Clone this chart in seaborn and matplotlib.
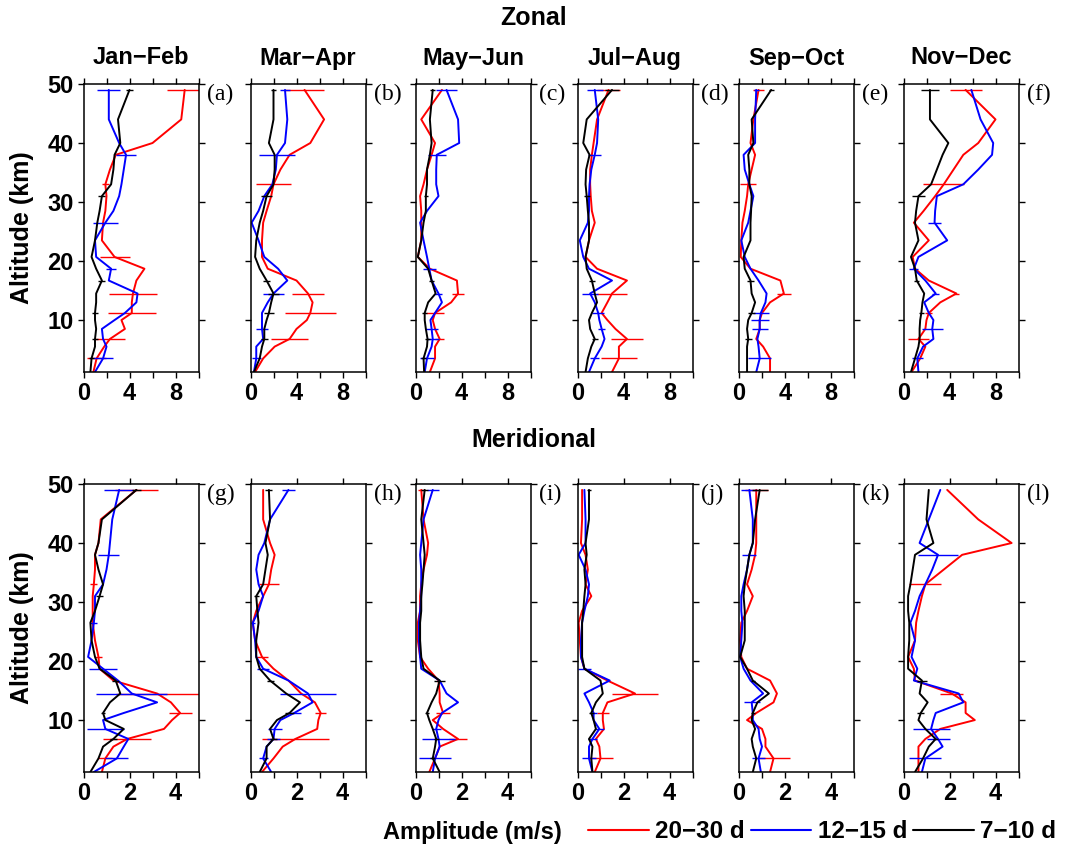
import numpy as np
import pandas as pd
import matplotlib
matplotlib.use("Agg")
import matplotlib.pyplot as plt
import seaborn as sns
from matplotlib.lines import Line2D
from matplotlib.ticker import FixedLocator

# ---------------- data ----------------
ALT = [1.2, 3.5, 5.5, 6.8, 8.5, 10, 11.2, 13, 14.5, 16.7, 18.7, 20.7,
       23.5, 26.5, 28.5, 31, 33, 35.5, 38, 40, 44, 49]

MONTHS = ["Jan\u2212Feb", "Mar\u2212Apr", "May\u2212Jun", "Jul\u2212Aug", "Sep\u2212Oct", "Nov\u2212Dec"]
PANEL_LABELS_TOP = ["(a)", "(b)", "(c)", "(d)", "(e)", "(f)"]
PANEL_LABELS_BOT = ["(g)", "(h)", "(i)", "(j)", "(k)", "(l)"]
SERIES = ["20\u221230 d", "12\u221215 d", "7\u221210 d"]

ZON_RED = [
    [0.86, 1.14, 1.8, 2.3, 3.6, 3.3, 4.2, 4.2, 4.3, 4.6, 5.3, 2.7, 1.6, 1.7, 1.9, 2.0, 1.9, 2.3, 2.8, 6.0, 8.5, 8.8],
    [0.4, 1.1, 2.1, 3.4, 4.0, 4.9, 5.2, 5.4, 5.0, 4.0, 1.5, 1.0, 1.0, 1.1, 1.4, 1.8, 2.0, 2.6, 3.4, 5.2, 6.4, 4.7],
    [1.25, 1.7, 1.7, 2.1, 1.7, 1.5, 1.7, 3.1, 3.7, 3.6, 1.25, 0.2, 0.5, 0.5, 0.5, 0.4, 0.7, 1.0, 1.4, 1.7, 0.5, 2.3],
    [3.0, 3.6, 3.6, 4.3, 3.3, 2.6, 2.1, 2.6, 3.0, 4.3, 1.7, 0.7, 1.0, 1.5, 1.25, 1.15, 1.1, 1.1, 1.25, 1.4, 1.7, 2.7],
    [2.7, 2.7, 2.1, 1.5, 1.8, 1.8, 2.0, 2.7, 3.9, 3.6, 1.0, 0.15, 0.2, 0.3, 0.5, 0.7, 0.8, 1.1, 1.4, 1.0, 1.25, 1.7],
    [0.7, 1.45, 1.9, 1.3, 1.9, 2.0, 2.2, 3.2, 4.6, 2.2, 1.0, 0.8, 2.2, 0.9, 1.75, 2.75, 3.5, 4.35, 5.2, 6.5, 8.0, 5.4],
]
ZON_BLUE = [
    [1.0, 1.7, 2.0, 1.7, 1.6, 2.7, 3.6, 4.6, 4.7, 2.2, 2.4, 1.1, 1.0, 1.9, 2.6, 3.1, 3.3, 3.5, 3.7, 3.1, 2.2, 2.2],
    [0.3, 0.5, 0.5, 1.1, 1.0, 1.0, 1.0, 1.5, 2.0, 3.2, 2.4, 1.2, 0.7, 0.1, 0.7, 1.2, 1.9, 2.2, 2.3, 3.0, 3.2, 3.0],
    [0.8, 1.0, 1.4, 1.5, 1.4, 1.3, 1.7, 2.3, 2.0, 1.4, 1.2, 1.0, 0.7, 0.4, 1.0, 2.0, 1.8, 1.8, 1.85, 3.8, 3.7, 2.7],
    [1.0, 1.5, 2.1, 2.35, 2.1, 1.9, 1.8, 1.5, 1.1, 3.0, 1.0, 0.5, 0.2, 0.9, 1.0, 1.0, 1.05, 1.2, 1.5, 1.7, 1.8, 1.5],
    [1.5, 1.8, 1.7, 1.6, 1.8, 1.8, 1.9, 2.3, 2.4, 1.7, 1.0, 0.5, 0.2, 0.8, 1.0, 1.25, 0.9, 0.5, 0.4, 1.4, 1.4, 1.5],
    [1.3, 1.2, 1.7, 2.6, 2.5, 2.6, 2.2, 1.8, 2.8, 1.9, 0.9, 1.3, 3.8, 2.7, 2.75, 2.9, 5.2, 6.5, 7.7, 7.8, 6.7, 5.9],
]
ZON_BLACK = [
    [0.6, 0.7, 1.0, 1.0, 1.1, 1.0, 1.0, 1.1, 1.1, 1.6, 1.1, 0.7, 1.0, 1.2, 1.4, 1.6, 2.4, 2.6, 2.7, 3.2, 3.0, 4.0],
    [0.3, 0.8, 1.0, 1.2, 1.2, 1.4, 1.6, 1.8, 2.0, 1.4, 0.8, 0.4, 0.5, 0.8, 1.1, 1.4, 2.0, 2.1, 2.1, 1.6, 2.0, 2.0],
    [0.75, 0.7, 1.0, 1.05, 0.9, 0.8, 0.8, 1.1, 1.75, 1.4, 1.1, 0.2, 0.5, 0.7, 0.9, 0.9, 1.0, 1.0, 1.25, 1.4, 1.25, 1.5],
    [0.7, 0.9, 1.2, 1.5, 1.1, 1.0, 1.25, 1.7, 1.5, 1.25, 0.8, 0.7, 1.0, 1.0, 0.9, 0.8, 0.7, 0.75, 1.05, 0.5, 0.8, 3.0],
    [0.7, 0.7, 0.7, 0.8, 0.7, 0.8, 1.1, 1.4, 1.1, 1.0, 0.5, 0.4, 1.0, 1.0, 1.05, 1.1, 0.9, 0.9, 0.8, 1.25, 1.1, 2.8],
    [0.65, 1.0, 1.3, 1.4, 1.4, 1.45, 1.55, 1.65, 1.8, 1.15, 1.0, 0.65, 1.3, 1.0, 1.1, 1.3, 2.4, 2.9, 3.4, 3.9, 2.3, 2.3],
]
MER_RED = [
    [0.8, 0.95, 1.3, 1.9, 3.5, 3.85, 4.2, 3.8, 3.2, 1.3, 0.7, 0.65, 0.5, 0.4, 0.4, 0.4, 0.45, 0.5, 0.5, 0.65, 0.75, 2.3],
    [0.5, 1.0, 1.4, 1.95, 2.9, 2.95, 3.05, 2.8, 2.2, 1.65, 1.0, 0.5, 0.2, 0.1, 0.25, 0.55, 0.8, 0.9, 1.05, 0.85, 0.55, 0.55],
    [0.6, 0.85, 1.05, 1.85, 1.2, 0.75, 1.2, 1.05, 1.05, 1.0, 0.55, 0.2, 0.1, 0.1, 0.2, 0.2, 0.25, 0.35, 0.5, 0.55, 0.35, 0.25],
    [0.75, 1.0, 0.95, 0.8, 1.15, 1.1, 1.1, 1.3, 2.5, 1.3, 0.3, 0.15, 0.1, 0.05, 0.2, 0.6, 0.35, 0.45, 0.35, 0.15, 0.2, 0.2],
    [1.35, 1.5, 1.15, 1.15, 1.0, 0.35, 0.75, 1.5, 1.65, 1.35, 0.35, 0.1, 0.05, 0.1, 0.35, 0.6, 0.35, 0.55, 0.7, 0.75, 0.75, 0.75],
    [0.65, 0.65, 0.65, 0.95, 1.6, 3.1, 2.7, 2.7, 2.1, 0.5, 0.45, 0.2, 0.5, 0.55, 0.65, 0.8, 0.95, 1.75, 2.55, 4.7, 3.25, 1.9],
]
MER_BLUE = [
    [0.45, 1.45, 1.75, 1.95, 0.95, 0.85, 1.75, 3.2, 2.1, 1.5, 0.85, 0.2, 0.35, 0.45, 0.5, 0.5, 0.85, 1.0, 1.1, 1.15, 1.25, 1.55],
    [0.9, 0.55, 0.7, 1.0, 1.05, 1.3, 1.9, 2.7, 2.5, 1.65, 0.55, 0.25, 0.2, 0.1, 0.35, 0.55, 0.35, 0.25, 0.35, 0.6, 0.85, 1.65],
    [0.75, 0.85, 1.05, 1.0, 0.9, 1.0, 1.15, 1.85, 1.35, 1.05, 0.25, 0.2, 0.15, 0.15, 0.2, 0.25, 0.25, 0.25, 0.2, 0.25, 0.35, 0.75],
    [0.65, 0.5, 0.5, 0.65, 0.95, 0.7, 0.7, 0.5, 0.3, 1.4, 0.3, 0.15, 0.15, 0.2, 0.3, 0.45, 0.5, 0.35, 0.05, 0.35, 0.35, 0.3],
    [0.95, 0.85, 1.0, 0.9, 0.85, 0.6, 0.6, 0.55, 1.05, 0.5, 0.2, 0.05, 0.1, 0.15, 0.1, 0.1, 0.2, 0.35, 0.45, 0.6, 0.6, 0.45],
    [0.8, 0.95, 1.7, 1.5, 1.2, 1.3, 1.4, 2.6, 2.4, 0.45, 0.6, 0.35, 0.5, 0.3, 0.5, 0.7, 0.95, 1.25, 1.5, 0.7, 1.1, 1.6],
]
MER_BLACK = [
    [0.3, 0.65, 0.85, 1.3, 1.75, 0.95, 0.85, 1.15, 1.6, 1.4, 0.7, 0.5, 0.35, 0.3, 0.5, 0.7, 0.85, 0.65, 0.5, 0.65, 0.8, 2.3],
    [0.4, 0.7, 0.7, 1.0, 0.85, 1.15, 1.7, 2.15, 1.55, 0.85, 0.4, 0.25, 0.25, 0.35, 0.3, 0.25, 0.55, 0.65, 0.75, 0.65, 0.85, 0.8],
    [1.05, 0.75, 0.85, 0.9, 0.75, 0.6, 0.5, 0.7, 0.9, 1.05, 0.35, 0.25, 0.2, 0.2, 0.25, 0.25, 0.3, 0.35, 0.4, 0.35, 0.25, 0.4],
    [0.65, 0.6, 0.65, 0.5, 0.8, 0.7, 0.6, 0.8, 1.1, 1.0, 0.3, 0.2, 0.2, 0.2, 0.25, 0.3, 0.35, 0.3, 0.4, 0.35, 0.5, 0.5],
    [0.6, 0.75, 0.6, 0.55, 0.7, 0.55, 0.6, 0.8, 1.3, 0.6, 0.35, 0.05, 0.25, 0.25, 0.25, 0.2, 0.25, 0.35, 0.45, 0.6, 0.7, 0.9],
    [0.5, 0.85, 1.1, 1.4, 0.95, 0.65, 0.75, 1.05, 0.7, 0.8, 0.2, 0.2, 0.25, 0.25, 0.2, 0.2, 0.3, 0.4, 0.5, 1.3, 1.0, 1.1],
]

# error bar half-widths, keyed by altitude (km)
ZON_RED_ERR = [
    {49: 1.5, 33: 0.3, 20.7: 1.3, 14.5: 2.1, 11.2: 2.1, 6.8: 1.3, 3.5: 0.85},
    {49: 1.7, 33: 1.5, 14.5: 1.4, 11.2: 2.2, 6.8: 1.6},
    {14.5: 0.5, 11.2: 0.8, 6.8: 0.4},
    {49: 1.0, 14.5: 1.3, 6.8: 1.4, 3.5: 1.6},
    {49: 0.5, 33: 0.7, 14.5: 0.6},
    {49: 1.4, 33: 1.8, 14.5: 0.2, 11.2: 0.3, 6.8: 0.9},
]
ZON_BLUE_ERR = [
    {49: 1.0, 38: 0.9, 26.5: 1.1, 18.7: 0.45, 3.5: 0.9},
    {49: 0.45, 38: 1.6, 14.5: 0.9, 8.5: 0.55, 3.5: 0.4},
    {49: 0.9, 38: 0.8, 18.7: 0.55, 14.5: 0.3, 8.5: 0.55, 6.8: 0.5, 3.5: 0.6},
    {49: 0.7, 38: 0.55, 14.5: 0.7, 11.2: 0.5, 8.5: 0.3, 3.5: 0.4},
    {49: 0.2, 11.2: 0.7, 10: 0.8, 8.5: 0.7, 3.5: 1.0},
    {26.5: 0.6, 18.7: 0.4, 14.5: 0.3, 8.5: 0.9, 3.5: 0.5},
]
ZON_BLACK_ERR = [
    {49: 0.3, 31: 0.3, 16.7: 0.3, 11.2: 0.3, 6.8: 0.3, 3.5: 0.2},
    {49: 0.2, 31: 0.5, 16.7: 0.3, 14.5: 0.5, 11.2: 0.4, 6.8: 0.3},
    {49: 0.2, 31: 0.15, 16.7: 0.2, 11.2: 0.2, 6.8: 0.2, 3.5: 0.2},
    {49: 0.6, 31: 0.25, 16.7: 0.25, 6.8: 0.25},
    {49: 0.2, 16.7: 0.3, 11.2: 0.3, 6.8: 0.3, 1.2: 0.2},
    {49: 0.8, 31: 0.6, 16.7: 0.2, 11.2: 0.2},
]
MER_RED_ERR = [
    {49: 0.95, 33: 0.15, 20.7: 0.15, 14.5: 1.8, 11.2: 0.5, 6.8: 1.05, 3.5: 0.3},
    {33: 0.45, 20.7: 0.25, 11.2: 0.25, 6.8: 1.45},
    {49: 0.15, 11.2: 0.3, 6.8: 0.4},
    {14.5: 1.0, 11.2: 0.25, 3.5: 0.55},
    {49: 0.5, 3.5: 0.7},
    {33: 0.7, 14.5: 0.5},
]
MER_BLUE_ERR = [
    {49: 0.65, 38: 0.45, 26.5: 0.15, 18.7: 0.6, 14.5: 1.55, 8.5: 0.8, 3.5: 0.5},
    {49: 0.3, 26.5: 0.1, 18.7: 0.25, 14.5: 1.2, 11.2: 0.3, 8.5: 0.3, 6.8: 0.3, 3.5: 0.2},
    {49: 0.25, 8.5: 0.2, 6.8: 0.7, 3.5: 0.7},
    {18.7: 0.3, 11.2: 0.15, 8.5: 0.2, 6.8: 0.2, 3.5: 0.3},
    {49: 0.35, 38: 0.3, 13: 0.35, 3.5: 0.3},
    {38: 0.85, 8.5: 0.8, 6.8: 0.5, 3.5: 0.7},
]
MER_BLACK_ERR = [
    {49: 0.2, 31: 0.15, 16.7: 0.15, 11.2: 0.1, 6.8: 0.15},
    {49: 0.15, 31: 0.1, 16.7: 0.15, 11.2: 0.2, 6.8: 0.15},
    {49: 0.15, 16.7: 0.25, 11.2: 0.1, 6.8: 0.1, 3.5: 0.1},
    {49: 0.1, 11.2: 0.1},
    {49: 0.35, 16.7: 0.1, 11.2: 0.1},
    {16.7: 0.2, 11.2: 0.15, 6.8: 0.1},
]

COLORS = ["#ff0000", "#0000ff", "#000000"]

# ---------------- style ----------------
sns.set_theme(style="ticks")
plt.rcParams['font.family'] = ['Liberation Sans', 'DejaVu Sans']
plt.rcParams['font.weight'] = 'bold'
plt.rcParams['axes.linewidth'] = 1.1
for k in ['text.color', 'axes.labelcolor', 'xtick.color', 'ytick.color', 'axes.edgecolor']:
    plt.rcParams[k] = 'black'

W_PX, H_PX = 1069, 844
fig = plt.figure(figsize=(W_PX / 100, H_PX / 100), dpi=100)

LEFTS = [83.5, 250.5, 415.5, 577.5, 739, 903.5]
PW = 115
ROWS = [(84, 372), (484, 772)]

row_data = [
    (ZON_RED, ZON_BLUE, ZON_BLACK, ZON_RED_ERR, ZON_BLUE_ERR, ZON_BLACK_ERR, PANEL_LABELS_TOP),
    (MER_RED, MER_BLUE, MER_BLACK, MER_RED_ERR, MER_BLUE_ERR, MER_BLACK_ERR, PANEL_LABELS_BOT),
]

for r, (top, bot) in enumerate(ROWS):
    red, blue, black, red_e, blue_e, black_e, plabels = row_data[r]
    for i in range(6):
        ax = fig.add_axes([LEFTS[i] / W_PX, 1 - bot / H_PX, PW / W_PX, (bot - top) / H_PX])
        for vals, errs, c in zip([red[i], blue[i], black[i]], [red_e[i], blue_e[i], black_e[i]], COLORS):
            df = pd.DataFrame({"amp": vals, "alt": ALT})
            sns.lineplot(data=df, x="amp", y="alt", sort=False, estimator=None,
                         color=c, lw=1.4, ax=ax, legend=False)
            ealt = list(errs.keys())
            ectr = [vals[ALT.index(a)] for a in ealt]
            ehw = list(errs.values())
            ax.errorbar(ectr, ealt, xerr=ehw, fmt='none', ecolor=c, elinewidth=1.0, capsize=0)
        ax.set_ylim(1.2, 50)
        if r == 0:
            ax.set_xlim(0, 10)
            ax.xaxis.set_major_locator(FixedLocator([0, 4, 8]))
            ax.xaxis.set_minor_locator(FixedLocator([2, 6, 10]))
            ax.tick_params(axis='x', which='both', bottom=True, top=True, direction='out',
                           length=4, width=1)
        else:
            ax.set_xlim(0, 5)
            ax.xaxis.set_major_locator(FixedLocator([0, 2, 4]))
            ax.xaxis.set_minor_locator(FixedLocator([1, 3, 5]))
            ax.tick_params(axis='x', which='major', bottom=True, top=True, direction='out',
                           length=4, width=1)
            ax.tick_params(axis='x', which='minor', bottom=True, top=False, direction='out',
                           length=4, width=1)
        ax.yaxis.set_major_locator(FixedLocator([10, 20, 30, 40, 50]))
        ax.tick_params(axis='y', which='major', left=True, right=True, direction='out',
                       length=4, width=1)
        ax.tick_params(axis='both', labelsize=17, pad=3, colors='black')
        for lab in ax.get_xticklabels() + ax.get_yticklabels():
            lab.set_fontweight('bold')
        if i != 0:
            ax.set_yticklabels([])
        ax.set_xlabel("")
        ax.set_ylabel("")
        for s in ax.spines.values():
            s.set_visible(True)
            s.set_color('black')
            s.set_linewidth(1.1)
        if r == 0:
            ax.text(0.5, 1 + 26 / (bot - top), MONTHS[i], transform=ax.transAxes,
                    ha='center', va='center', fontsize=17, fontweight='bold')
        ax.text(1.07, 0.963, plabels[i], transform=ax.transAxes, ha='left', va='center',
                fontsize=17, fontweight='normal', family=['Liberation Serif', 'DejaVu Serif'])

fig.text(534 / W_PX, 1 - 18 / H_PX, "Zonal", ha='center', va='center', fontsize=18, fontweight='bold')
fig.text(534 / W_PX, 1 - 440 / H_PX, "Meridional", ha='center', va='center', fontsize=18, fontweight='bold')
fig.text(22 / W_PX, 1 - 228 / H_PX, "Altitude (km)", rotation=90, ha='center', va='center',
         fontsize=18, fontweight='bold')
fig.text(22 / W_PX, 1 - 628 / H_PX, "Altitude (km)", rotation=90, ha='center', va='center',
         fontsize=18, fontweight='bold')
fig.text(472 / W_PX, 1 - 832 / H_PX, "Amplitude (m/s)", ha='center', va='center',
         fontsize=17, fontweight='bold')

handles = [Line2D([0], [0], color=c, lw=1.5) for c in COLORS]
leg = fig.legend(handles, SERIES, loc='center', bbox_to_anchor=(822 / W_PX, 1 - 832 / H_PX),
                 ncol=3, frameon=False, handlelength=2.5, handletextpad=0.25,
                 columnspacing=0.25, borderpad=0, borderaxespad=0,
                 prop={'weight': 'bold', 'size': 17.5})

fig.savefig("out.png", dpi=100)
